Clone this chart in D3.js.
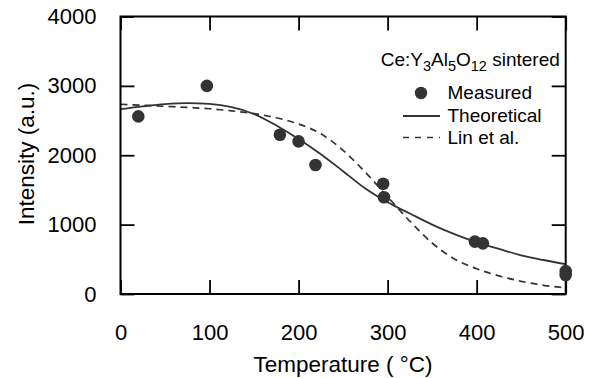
<!DOCTYPE html>
<html>
<head>
<meta charset="utf-8">
<script src="https://cdn.jsdelivr.net/npm/d3@7"></script>
<style>
  body { margin: 0; background: #fff; }
  svg { display: block; font-family: "Liberation Sans", Arial, sans-serif; }
</style>
</head>
<body>
<svg width="591" height="378"></svg>
<script>
// measured points (°C, a.u.)
const measuredT = [20, 97, 179, 200, 219, 295, 296, 398, 407, 500, 500];
const measuredI = [2560, 3000, 2295, 2200, 1860, 1590, 1395, 755, 730, 330, 275];

// theoretical curve
const theoT = [0, 25, 50, 75, 100, 125, 150, 175, 200, 225, 250, 275, 300, 325, 350, 375, 400, 425, 450, 475, 500];
const theoI = [2665, 2705, 2738, 2752, 2742, 2695, 2595, 2430, 2235, 2015, 1770, 1520, 1322, 1160, 1000, 862, 745, 650, 558, 490, 430];

// Lin et al. curve
const linT = [0, 25, 50, 75, 100, 125, 150, 175, 200, 225, 250, 275, 300, 325, 350, 375, 400, 425, 450, 475, 500];
const linI = [2735, 2720, 2705, 2690, 2670, 2640, 2600, 2540, 2450, 2310, 2070, 1755, 1400, 1050, 735, 505, 365, 262, 183, 125, 88];

const xTicks = [0, 100, 200, 300, 400, 500];
const yTicks = [0, 1000, 2000, 3000, 4000];

const svg = d3.select("svg");
const plotL = 120.5, plotR = 565.7, plotT = 16.5, plotB = 294;
const ink = "#333";

const x = d3.scaleLinear().domain([0, 500]).range([plotL, plotR]);
const y = d3.scaleLinear().domain([0, 4000]).range([plotB, plotT]);

// curves
const line = d3.line().x(d => x(d[0])).y(d => y(d[1])).curve(d3.curveMonotoneX);

svg.append("path")
    .attr("d", line(linT.map((t, i) => [t, linI[i]])))
    .attr("fill", "none")
    .attr("stroke", ink)
    .attr("stroke-width", 1.7)
    .attr("stroke-dasharray", "7,5");

svg.append("path")
    .attr("d", line(theoT.map((t, i) => [t, theoI[i]])))
    .attr("fill", "none")
    .attr("stroke", ink)
    .attr("stroke-width", 1.8);

// axes, ticks inward on all four sides
const tickSize = 14;
const fmt = d3.format("d");
const g = svg.append("g");

g.append("g")
    .attr("transform", `translate(0,${plotB})`)
    .call(d3.axisBottom(x).tickValues(xTicks).tickSize(-tickSize).tickPadding(tickSize + 16).tickFormat(fmt));
g.append("g")
    .attr("transform", `translate(0,${plotT})`)
    .call(d3.axisTop(x).tickValues(xTicks).tickSize(-tickSize).tickFormat(""));
g.append("g")
    .attr("transform", `translate(${plotL},0)`)
    .call(d3.axisLeft(y).tickValues(yTicks).tickSize(-tickSize).tickPadding(tickSize + 10).tickFormat(fmt));
g.append("g")
    .attr("transform", `translate(${plotR},0)`)
    .call(d3.axisRight(y).tickValues(yTicks).tickSize(-tickSize).tickFormat(""));

g.selectAll(".domain").remove();
g.selectAll(".tick line").attr("stroke", "#000").attr("stroke-width", 1.8);
g.selectAll(".tick text")
    .attr("fill", "#000")
    .style("font-size", "22px")
    .style("font-family", "Liberation Sans, Arial, sans-serif");

svg.append("rect")
    .attr("x", plotL).attr("y", plotT)
    .attr("width", plotR - plotL).attr("height", plotB - plotT)
    .attr("fill", "none")
    .attr("stroke", "#000")
    .attr("stroke-width", 2);

// measured points
svg.selectAll("circle.pt")
    .data(measuredT.map((t, i) => [t, measuredI[i]]))
    .join("circle")
    .attr("class", "pt")
    .attr("cx", d => x(d[0]))
    .attr("cy", d => y(d[1]))
    .attr("r", 6.3)
    .attr("fill", ink);

// axis titles
svg.append("text")
    .attr("x", (plotL + plotR) / 2)
    .attr("y", 371.5)
    .attr("text-anchor", "middle")
    .style("font-size", "22.5px")
    .text("Temperature ( °C)");

svg.append("text")
    .attr("transform", "translate(34,154) rotate(-90)")
    .attr("text-anchor", "middle")
    .style("font-size", "22.5px")
    .text("Intensity (a.u.)");

// legend
const lg = svg.append("g").style("font-size", "19px");
const title = lg.append("text").attr("x", 380.7).attr("y", 65.5);
title.append("tspan").text("Ce:Y");
title.append("tspan").attr("dy", 5).style("font-size", "14.5px").text("3");
title.append("tspan").attr("dy", -5).text("Al");
title.append("tspan").attr("dy", 5).style("font-size", "14.5px").text("5");
title.append("tspan").attr("dy", -5).text("O");
title.append("tspan").attr("dy", 5).style("font-size", "14.5px").text("12");
title.append("tspan").attr("dy", -5).text(" sintered");

lg.append("circle").attr("cx", 421).attr("cy", 93).attr("r", 6.2).attr("fill", ink);
lg.append("text").attr("x", 447.5).attr("y", 99.3).text("Measured");

lg.append("line").attr("x1", 403).attr("x2", 440).attr("y1", 116).attr("y2", 116)
    .attr("stroke", ink).attr("stroke-width", 1.8);
lg.append("text").attr("x", 447.5).attr("y", 121.7).text("Theoretical");

lg.append("line").attr("x1", 403).attr("x2", 440).attr("y1", 137.5).attr("y2", 137.5)
    .attr("stroke", ink).attr("stroke-width", 1.7).attr("stroke-dasharray", "6,6");
lg.append("text").attr("x", 447.5).attr("y", 144).text("Lin et al.");
</script>
</body>
</html>
